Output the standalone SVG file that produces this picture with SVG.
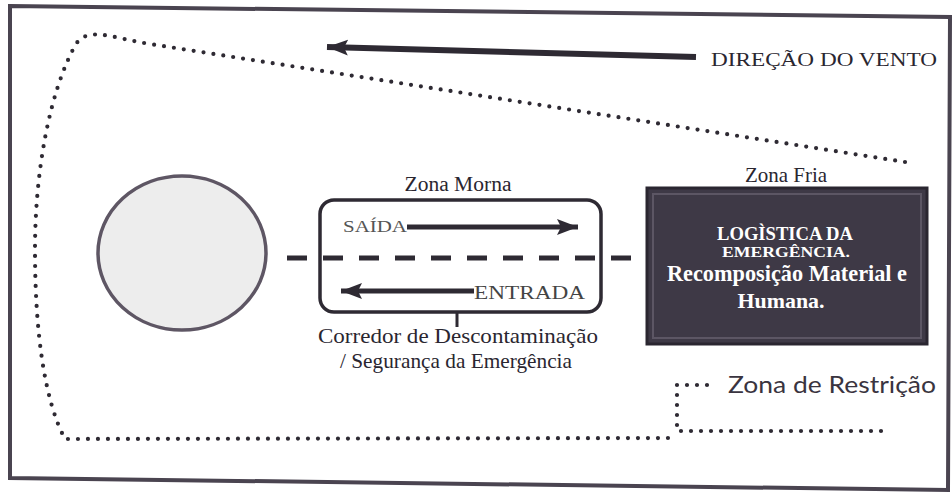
<svg xmlns="http://www.w3.org/2000/svg" width="952" height="497" viewBox="0 0 952 497">
<defs>
<marker id="arrow" markerUnits="userSpaceOnUse" markerWidth="24" markerHeight="20" refX="21" refY="10" orient="auto">
<path d="M0,2 L21,10 L0,18 L4,10 z" fill="#2e2a33"/>
</marker>
</defs>
<style>
.serif{font-family:"Liberation Serif","Times New Roman",serif;fill:#2a2630}
.dots{fill:none;stroke:#2e2a33;stroke-width:4.2;stroke-linecap:round;stroke-dasharray:0 10}
.arrow{stroke:#2e2a33;stroke-width:5;fill:none;marker-end:url(#arrow)}
.white{font-family:"Liberation Serif","Times New Roman",serif;fill:#ffffff;font-weight:bold;text-anchor:middle}
</style>
<rect width="952" height="497" fill="#ffffff"/>
<polygon points="10,6 950,17 948,490 10,478" fill="none" stroke="#4a4450" stroke-width="4"/>

<g id="restriction-zone">
<path class="dots" d="M905,162 L150,44 C112,38 88,26 76,44 C50,90 35,170 35,250 C35,330 44,400 65,439 L677,438"/>
<path class="dots" d="M677,385 L677,431 L888,431"/>
<path class="dots" d="M687,385 L717,385"/>
<text x="728" y="393" font-family="Lato,'Open Sans',sans-serif" font-size="24" fill="#3a3440" textLength="208" lengthAdjust="spacingAndGlyphs">Zona de Restrição</text>
</g>

<g id="wind">
<line class="arrow" x1="696" y1="57" x2="327" y2="47" style="stroke-width:6"/>
<text class="serif" x="711" y="66" font-size="19" textLength="226" lengthAdjust="spacingAndGlyphs">DIREÇÃO DO VENTO</text>
</g>

<g id="hot-zone">
<ellipse cx="182" cy="253" rx="84" ry="77" fill="#ededed" stroke="#5e5664" stroke-width="3.5"/>
</g>

<g id="connectors">
<line x1="287" y1="258" x2="640" y2="258" stroke="#2e2a33" stroke-width="5" stroke-dasharray="20 16"/>
<line x1="457" y1="312" x2="457" y2="327" stroke="#2e2a33" stroke-width="3"/>
</g>

<g id="warm-zone">
<text class="serif" x="458" y="191" font-size="20" text-anchor="middle" textLength="107" lengthAdjust="spacingAndGlyphs">Zona Morna</text>
<rect x="320" y="200" width="281" height="112" rx="14" fill="none" stroke="#2e2a33" stroke-width="3.5"/>
<text class="serif" x="343" y="232" font-size="17" style="fill:#555" textLength="64" lengthAdjust="spacingAndGlyphs">SAÍDA</text>
<line class="arrow" x1="407" y1="227" x2="578" y2="227"/>
<line class="arrow" x1="474" y1="291" x2="341" y2="291"/>
<text class="serif" x="474" y="299" font-size="18" style="fill:#444" textLength="111" lengthAdjust="spacingAndGlyphs">ENTRADA</text>
<text class="serif" x="318" y="343" font-size="22" textLength="280" lengthAdjust="spacingAndGlyphs">Corredor de Descontaminação</text>
<text class="serif" x="340" y="368" font-size="22" textLength="232" lengthAdjust="spacingAndGlyphs">/ Segurança da Emergência</text>
</g>

<g id="cold-zone">
<text class="serif" x="786" y="182" font-size="21" text-anchor="middle">Zona Fria</text>
<rect x="647" y="188" width="280" height="156" fill="#3e3946" stroke="#2a2630" stroke-width="3"/>
<rect x="653" y="194" width="268" height="144" fill="none" stroke="#5c5664" stroke-width="2"/>
<text class="white" x="785" y="240" font-size="19" textLength="136" lengthAdjust="spacingAndGlyphs">LOGÌSTICA DA</text>
<text class="white" x="786" y="257" font-size="15" textLength="128" lengthAdjust="spacingAndGlyphs">EMERGÊNCIA.</text>
<text class="white" x="787" y="281" font-size="23" textLength="240" lengthAdjust="spacingAndGlyphs">Recomposição Material e</text>
<text class="white" x="781" y="308" font-size="22" textLength="87" lengthAdjust="spacingAndGlyphs">Humana.</text>
</g>
</svg>
